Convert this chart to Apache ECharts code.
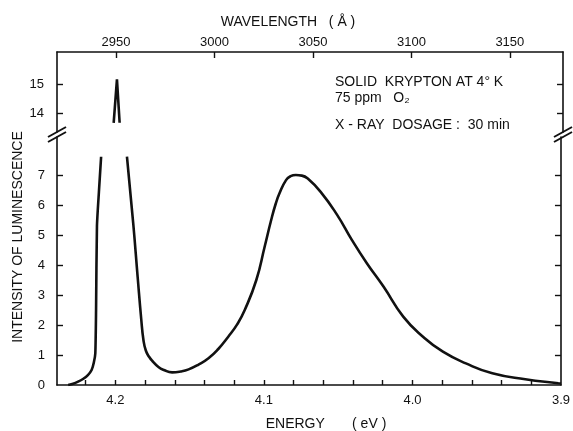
<!DOCTYPE html>
<html><head><meta charset="utf-8">
<script src="https://cdn.jsdelivr.net/npm/echarts@6/dist/echarts.min.js"></script>
<style>html,body{margin:0;padding:0;background:#fff}#c{width:573px;height:431px}</style>
</head><body><div id="c"></div>
<script>
// ---- data (energy in eV, intensity in arbitrary units) ----
const leftFlankEnergy    = [4.2318, 4.2285, 4.2251, 4.2218, 4.2185, 4.2160, 4.2145, 4.2135, 4.2130, 4.2124, 4.2110, 4.2096];
const leftFlankIntensity = [0, 0.04, 0.11, 0.20, 0.33, 0.50, 0.75, 1.06, 2.5, 5.3, 6.5, 7.61];

const mainEnergy    = [4.1922, 4.1880, 4.1850, 4.1826, 4.1811, 4.1795, 4.1773, 4.1751, 4.1710, 4.1673, 4.1618, 4.1560, 4.1507, 4.1440, 4.1373, 4.1307, 4.1240, 4.1180, 4.1129, 4.1051, 4.0995, 4.0951, 4.0920, 4.0895, 4.0851, 4.0820, 4.0785, 4.0745, 4.0707, 4.0618, 4.0507, 4.0407, 4.0307, 4.0195, 4.0062, 3.9929, 3.9795, 3.9640, 3.9462, 3.9240, 3.9018, 3.9000];
const mainIntensity = [7.61, 5.40, 3.60, 2.20, 1.50, 1.15, 0.94, 0.80, 0.60, 0.50, 0.42, 0.45, 0.52, 0.68, 0.89, 1.20, 1.61, 2.02, 2.50, 3.50, 4.61, 5.50, 6.05, 6.39, 6.83, 6.96, 7.00, 6.98, 6.89, 6.44, 5.67, 4.83, 4.06, 3.28, 2.28, 1.61, 1.11, 0.72, 0.39, 0.19, 0.06, 0.05];

const peakTopEnergy    = [4.2013, 4.1991, 4.1973];
const peakTopIntensity = [13.67, 15.18, 13.67];

// ---- tick labels ----
const energyTickLabels   = [4.2, 4.1, 4.0, 3.9];
const energyTicks        = [3.92, 3.94, 3.96, 3.98, 4.00, 4.02, 4.04, 4.06, 4.08, 4.10, 4.12, 4.14, 4.16, 4.18, 4.20, 4.22];
const wavelengthTicks    = [2950, 3000, 3050, 3100, 3150];
const lowerIntensityLabels = [0, 1, 2, 3, 4, 5, 6, 7];
const lowerIntensityTicks  = [1, 2, 3, 4, 5, 6, 7];
const upperIntensityTicks  = [14, 15];

const INK = '#111';
const FONT = '"Liberation Sans", Arial, sans-serif';

function pairs(xs, ys) { return xs.map((x, i) => [x, ys[i]]); }

const axisLine = { show: true, onZero: false, lineStyle: { color: INK, width: 1.6 } };
const labelStyle = { color: INK, fontFamily: FONT, fontSize: 13 };

const chart = echarts.init(document.getElementById('c'), null, { renderer: 'canvas' });
const lineStyle = { color: INK, width: 2.6 };

chart.setOption({
  animation: false,
  backgroundColor: '#fff',
  grid: [
    { left: 57, right: 10, top: 137, bottom: 46 },   // lower (0 - 8)
    { left: 57, right: 10, top: 52, height: 80 }      // upper (14 - 15)
  ],
  xAxis: [
    { gridIndex: 0, type: 'value', min: 3.9, max: 4.2393, inverse: true, position: 'bottom',
      axisLine: axisLine, splitLine: { show: false },
      axisTick: { show: true, inside: true, length: 5, customValues: energyTicks, lineStyle: { color: INK, width: 1.4 } },
      axisLabel: Object.assign({ customValues: energyTickLabels, margin: 9, formatter: v => v.toFixed(1) }, labelStyle) },
    { gridIndex: 1, type: 'value', min: 3.9, max: 4.2393, inverse: true, show: false },
    { gridIndex: 1, type: 'value', min: 2920, max: 3177, position: 'top',
      axisLine: axisLine, splitLine: { show: false },
      axisTick: { show: true, inside: true, length: 6, customValues: wavelengthTicks, lineStyle: { color: INK, width: 1.4 } },
      axisLabel: Object.assign({ customValues: wavelengthTicks, margin: 3, formatter: v => String(v) }, labelStyle) }
  ],
  yAxis: [
    { gridIndex: 0, type: 'value', min: 0, max: 8.267, position: 'left',
      axisLine: axisLine, splitLine: { show: false },
      axisTick: { show: true, inside: true, length: 6, customValues: lowerIntensityTicks, lineStyle: { color: INK, width: 1.4 } },
      axisLabel: Object.assign({ customValues: lowerIntensityLabels, margin: 12 }, labelStyle) },
    { gridIndex: 0, type: 'value', min: 0, max: 8.267, position: 'right',
      axisLine: axisLine, splitLine: { show: false },
      axisTick: { show: true, inside: true, length: 6, customValues: lowerIntensityTicks, lineStyle: { color: INK, width: 1.4 } },
      axisLabel: { show: false } },
    { gridIndex: 1, type: 'value', min: 13.35, max: 16.13, position: 'left',
      axisLine: axisLine, splitLine: { show: false },
      axisTick: { show: true, inside: true, length: 6, customValues: upperIntensityTicks, lineStyle: { color: INK, width: 1.4 } },
      axisLabel: Object.assign({ customValues: upperIntensityTicks, margin: 13 }, labelStyle) },
    { gridIndex: 1, type: 'value', min: 13.35, max: 16.13, position: 'right',
      axisLine: axisLine, splitLine: { show: false },
      axisTick: { show: true, inside: true, length: 6, customValues: upperIntensityTicks, lineStyle: { color: INK, width: 1.4 } },
      axisLabel: { show: false } }
  ],
  series: [
    { type: 'line', xAxisIndex: 0, yAxisIndex: 0, data: pairs(leftFlankEnergy, leftFlankIntensity),
      symbol: 'none', smooth: 0.2, lineStyle: lineStyle },
    { type: 'line', xAxisIndex: 0, yAxisIndex: 0, data: pairs(mainEnergy, mainIntensity),
      symbol: 'none', smooth: 0.5, lineStyle: lineStyle },
    { type: 'line', xAxisIndex: 1, yAxisIndex: 2, data: pairs(peakTopEnergy, peakTopIntensity),
      symbol: 'none', smooth: false, lineStyle: lineStyle }
  ],
  graphic: [
    // axis-break marks
    { type: 'line', shape: { x1: 48, y1: 137, x2: 66, y2: 127 }, style: { stroke: INK, lineWidth: 2 } },
    { type: 'line', shape: { x1: 48, y1: 142, x2: 66, y2: 132 }, style: { stroke: INK, lineWidth: 2 } },
    { type: 'line', shape: { x1: 554, y1: 137, x2: 572, y2: 127 }, style: { stroke: INK, lineWidth: 2 } },
    { type: 'line', shape: { x1: 554, y1: 142, x2: 572, y2: 132 }, style: { stroke: INK, lineWidth: 2 } },
    // axis titles
    { type: 'text', x: 288, y: 22, style: { text: 'WAVELENGTH   ( Å )', font: '14px ' + FONT, fill: INK, align: 'center', verticalAlign: 'middle', textAlign: 'center', textVerticalAlign: 'middle' } },
    { type: 'text', x: 326, y: 424, style: { text: 'ENERGY       ( eV )', font: '14px ' + FONT, fill: INK, align: 'center', verticalAlign: 'middle', textAlign: 'center', textVerticalAlign: 'middle' } },
    { type: 'text', x: 18, y: 237, rotation: Math.PI / 2, style: { text: 'INTENSITY OF LUMINESCENCE', font: '14px ' + FONT, fill: INK, align: 'center', verticalAlign: 'middle', textAlign: 'center', textVerticalAlign: 'middle' } },
    // annotation
    { type: 'text', x: 335, y: 82, style: { text: 'SOLID  KRYPTON AT 4° K', font: '14px ' + FONT, fill: INK, align: 'left', verticalAlign: 'middle', textAlign: 'left', textVerticalAlign: 'middle' } },
    { type: 'text', x: 335, y: 98, style: { text: '75 ppm   O₂', font: '14px ' + FONT, fill: INK, align: 'left', verticalAlign: 'middle', textAlign: 'left', textVerticalAlign: 'middle' } },
    { type: 'text', x: 335, y: 125, style: { text: 'X - RAY  DOSAGE :  30 min', font: '14px ' + FONT, fill: INK, align: 'left', verticalAlign: 'middle', textAlign: 'left', textVerticalAlign: 'middle' } }
  ]
});
</script>
</body></html>
